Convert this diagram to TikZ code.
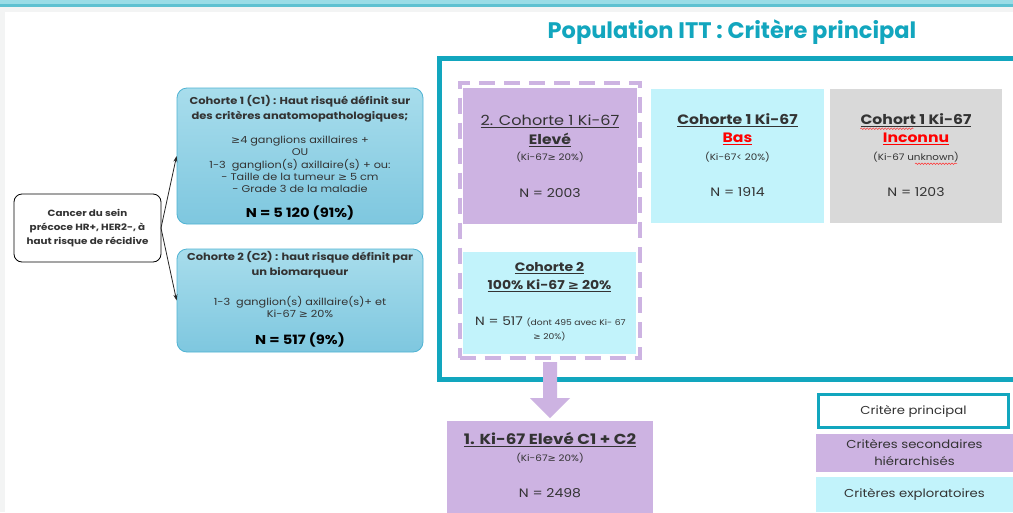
\documentclass[tikz,border=0pt]{standalone}
\usepackage{fontspec}
\setmainfont[FakeStretch=1.15]{Poppins}
\newfontfamily\titlefont{Poppins}
\newfontfamily\djv[FakeStretch=1.1]{DejaVu Sans}
\newcommand\GE{{\djv ≥}}
\usetikzlibrary{arrows.meta,decorations.pathmorphing}
\definecolor{tealA}{HTML}{12A6BE}
\definecolor{tealTop}{HTML}{9ADCE6}
\definecolor{tealLine}{HTML}{5EC1D1}
\definecolor{pageGrey}{HTML}{F3F4F4}
\definecolor{lilac}{HTML}{CDB3E2}
\definecolor{cyanF}{HTML}{C2F3FB}
\definecolor{greyF}{HTML}{D9D9D9}
\definecolor{tgrey}{HTML}{333333}
\definecolor{redT}{HTML}{FF0000}
\definecolor{cohTop}{HTML}{A8DDEC}
\definecolor{cohBot}{HTML}{7EC7DF}
\definecolor{cohLine}{HTML}{4FB3D3}
\begin{document}
\begin{tikzpicture}[x=1pt,y=-1pt,
  box/.style={draw=none,inner sep=0pt,outer sep=0pt},
  txt/.style={text=tgrey,inner sep=0pt,align=center},
  cohort/.style={rounded corners=10pt,draw=cohLine,line width=0.8pt,top color=cohTop,bottom color=cohBot,inner sep=0pt},
  conn/.style={draw=black!85,line width=0.8pt,-{Stealth[length=6pt,width=4pt]}},
  spell/.style={draw=red!80,line width=0.5pt,decorate,decoration={snake,amplitude=0.8pt,segment length=3pt}}]
\useasboundingbox (0,0) rectangle (1013,512);
% page background
\fill[pageGrey] (0,0) rectangle (1013,512);
\fill[tealTop] (0,0) rectangle (1013,4);
\fill[tealLine] (0,4) rectangle (1013,7);
\fill[white] (5,12) rectangle (1013,512);
% title
\node[text=tealA,inner sep=0pt,font=\titlefont\bfseries\fontsize{22.5}{26}\selectfont] (title) at (732,32) {Population ITT : Critère principal};
% left box
\node[box,draw=black,line width=0.8pt,rounded corners=8pt,minimum width=147pt,minimum height=68pt] (cancer) at (87.5,228) {};
\node[txt,font=\bfseries\fontsize{9}{14}\selectfont] at (cancer.center) {Cancer du sein\\précoce HR+, HER2-, à\\haut risque de récidive};
% cohorts
\node[cohort,minimum width=246pt,minimum height=136pt] (c1) at (300,156) {};
\node[txt,font=\bfseries\fontsize{10}{15}\selectfont] at (300,108.5) {Cohorte 1 (C1) : Haut risqué définit sur\\des critères anatomopathologiques;};
\node[txt,font=\fontsize{9.8}{12.2}\selectfont] at (300,164.5) {\GE4 ganglions axillaires +\\OU\\1-3\ \ ganglion(s) axillaire(s) + ou:\\- Taille de la tumeur \GE{} 5 cm\\- Grade 3 de la maladie};
\node[txt,font=\bfseries\fontsize{12.8}{15}\selectfont,text=black] at (300,213) {N = 5 120 (91\%)};
\node[cohort,minimum width=246pt,minimum height=103pt] (c2) at (300,300.5) {};
\node[txt,font=\bfseries\fontsize{10}{15}\selectfont] at (300,264.5) {Cohorte 2 (C2) : haut risque définit par\\un biomarqueur};
\node[txt,font=\fontsize{9.8}{12}\selectfont] at (300,307) {1-3\ \ ganglion(s) axillaire(s)+ et\\Ki-67 \GE{} 20\%};
\node[txt,font=\bfseries\fontsize{12.8}{15}\selectfont,text=black] at (300,340) {N = 517 (9\%)};
\draw[conn] (cancer.east) -- (c1.west);
\draw[conn] (cancer.east) -- (c2.west);
% main frame
\node[box,draw=tealA,line width=5pt,minimum width=590pt,minimum height=321pt] (frame) at (734.5,218.5) {};
\node[box,draw=lilac,line width=4pt,dash pattern=on 16pt off 9pt,minimum width=180pt,minimum height=275pt] (dash) at (549.5,220) {};
% top row boxes
\node[box,fill=lilac,minimum width=174pt,minimum height=136pt] (high) at (550,156) {};
\node[txt,font=\fontsize{14}{16}\selectfont] at (550,121) {\underline{2. Cohorte 1 Ki-67}};
\node[txt,font=\bfseries\fontsize{13.6}{15}\selectfont] at (550,140) {\underline{Elevé}};
\node[txt,font=\fontsize{9}{10}\selectfont] at (550,157) {(Ki-67\GE{} 20\%)};
\node[txt,font=\fontsize{12.2}{14}\selectfont] at (550,193) {N = 2003};
\node[box,fill=cyanF,minimum width=173pt,minimum height=134pt] (low) at (737.5,156) {};
\node[txt,font=\bfseries\fontsize{13.6}{15}\selectfont] at (737.5,120) {\underline{Cohorte 1 Ki-67}};
\node[txt,font=\bfseries\fontsize{13.6}{15}\selectfont,text=redT] at (737.5,139) {\underline{Bas}};
\node[txt,font=\fontsize{9}{10}\selectfont] at (737.5,157) {(Ki-67< 20\%)};
\node[txt,font=\fontsize{12.2}{14}\selectfont] at (737.5,192) {N = 1914};
\node[box,fill=greyF,minimum width=172pt,minimum height=134pt] (unk) at (916,156) {};
\node[txt,font=\bfseries\fontsize{13.6}{15}\selectfont] (unkT) at (916,120) {\underline{Cohort 1 Ki-67}};
\node[txt,font=\bfseries\fontsize{13.6}{15}\selectfont,text=redT] at (916,139) {\underline{Inconnu}};
\node[txt,font=\fontsize{9}{10}\selectfont] (unkS) at (916,157) {(Ki-67 unknown)};
\node[txt,font=\fontsize{12.2}{14}\selectfont] at (916,192) {N = 1203};
\draw[spell] ([yshift=-2pt]unkT.south west) -- ++(53,0);
\draw[spell] ([xshift=-44pt,yshift=-1.5pt]unkS.south east) -- ++(42,0);
% cohort 2 box
\node[box,fill=cyanF,minimum width=173pt,minimum height=102pt] (coh2) at (549.5,303) {};
\node[txt,font=\bfseries\fontsize{12.2}{18}\selectfont] at (549.5,277) {\underline{Cohorte 2}\\\underline{100\% Ki-67 \GE{} 20\%}};
\node[txt,font=\fontsize{12}{14}\selectfont,anchor=west] (n517) at (475,322) {N = 517 {\fontsize{8}{8}\selectfont (dont 495 avec Ki- 67}};
\node[txt,font=\fontsize{8}{8}\selectfont] at (549.5,337) {\GE{} 20\%)};
% block arrow
\node[box,fill=lilac,minimum width=206pt,minimum height=92pt] (both) at (550,467) {};
\fill[lilac] (543,362) -- (557,362) -- (557,398) -- (570,398) -- (550,418) -- (530,398) -- (543,398) -- cycle;
\node[txt,font=\bfseries\fontsize{14.5}{15}\selectfont] at (550,440) {\underline{1. Ki-67 Elevé C1 + C2}};
\node[txt,font=\fontsize{9}{10}\selectfont] at (550,458) {(Ki-67\GE{} 20\%)};
\node[txt,font=\fontsize{12.2}{14}\selectfont] at (550,493) {N = 2498};
% legend
\node[box,draw=tealA,line width=3.5pt,fill=white,minimum width=190pt,minimum height=33pt,font=\fontsize{11.5}{13}\selectfont,text=tgrey] (lg1) at (913.5,411) {Critère principal};
\node[box,fill=lilac,minimum width=197pt,minimum height=38pt,align=center,font=\fontsize{11.5}{17}\selectfont,text=tgrey] (lg2) at (914.5,453) {Critères secondaires\\hiérarchisés};
\node[box,fill=cyanF,minimum width=197pt,minimum height=35pt,font=\fontsize{11.5}{13}\selectfont,text=tgrey] (lg3) at (914.5,494.5) {Critères exploratoires};
\end{tikzpicture}
\end{document}
